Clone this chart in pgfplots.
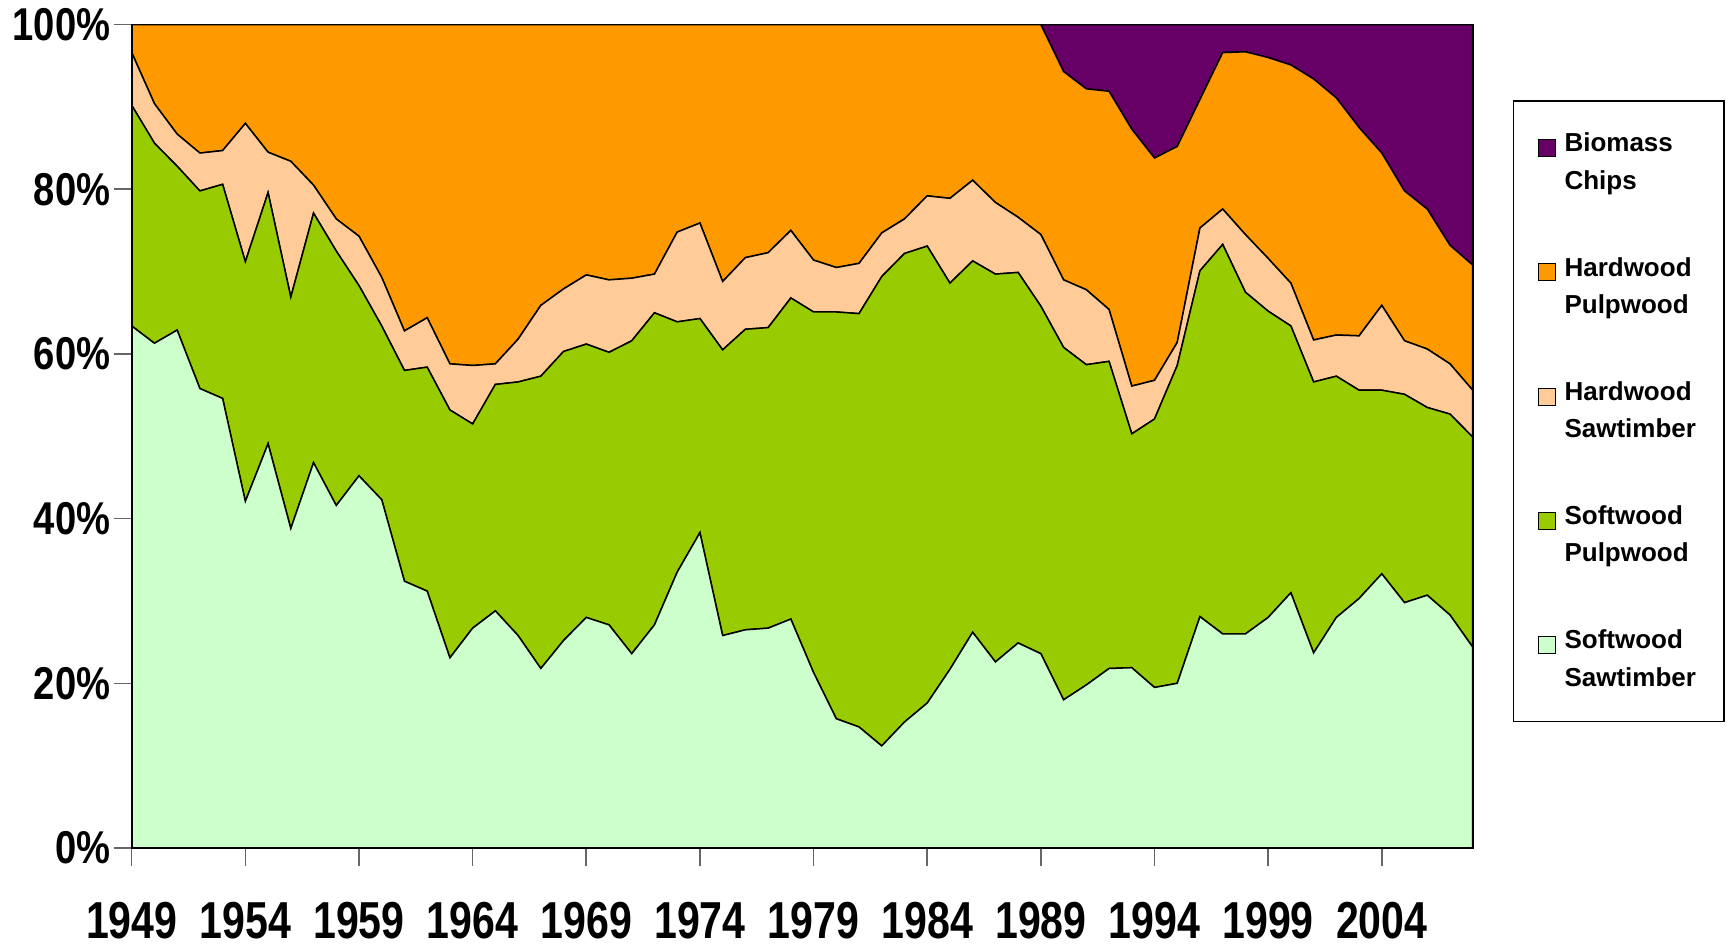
\documentclass[border=0pt]{standalone}
\usepackage{fontspec}
\setmainfont{Liberation Sans}
\newfontfamily\xfont{Liberation Sans}[FakeStretch=0.79]
\newfontfamily\yfont{Liberation Sans}[FakeStretch=0.83]
\usepackage{pgfplots}
\usepackage{pgfplotstable}
\pgfplotsset{compat=1.18}
\definecolor{ssc}{HTML}{CCFFCC}
\definecolor{spc}{HTML}{99CC00}
\definecolor{hsc}{HTML}{FFCC99}
\definecolor{hpc}{HTML}{FF9900}
\definecolor{bcc}{HTML}{660066}
\pgfplotstableread{
year ss sp hs hp bc
1949 63.4 26.8 6.4 3.4 0
1950 61.3 24.3 4.8 9.6 0
1951 62.9 19.9 3.9 13.3 0
1952 55.8 24.0 4.6 15.6 0
1953 54.6 26.0 4.1 15.3 0
1954 42.1 29.1 16.8 12.0 0
1955 49.1 30.5 4.9 15.5 0
1956 38.8 28.1 16.5 16.6 0
1957 46.8 30.3 3.4 19.5 0
1958 41.6 30.9 3.9 23.6 0
1959 45.2 23.1 6.0 25.7 0
1960 42.3 21.1 5.9 30.7 0
1961 32.4 25.6 4.8 37.2 0
1962 31.2 27.2 6.0 35.6 0
1963 23.1 30.1 5.6 41.2 0
1964 26.7 24.8 7.1 41.4 0
1965 28.8 27.5 2.5 41.2 0
1966 25.8 30.8 5.2 38.2 0
1967 21.8 35.5 8.6 34.1 0
1968 25.2 35.1 7.6 32.1 0
1969 28.0 33.2 8.4 30.4 0
1970 27.1 33.1 8.8 31.0 0
1971 23.6 38.0 7.6 30.8 0
1972 27.1 37.9 4.7 30.3 0
1973 33.5 30.4 10.9 25.2 0
1974 38.3 26.0 11.6 24.1 0
1975 25.8 34.7 8.3 31.2 0
1976 26.5 36.5 8.7 28.3 0
1977 26.7 36.5 9.1 27.7 0
1978 27.8 39.0 8.2 25.0 0
1979 21.3 43.8 6.3 28.6 0
1980 15.7 49.4 5.4 29.5 0
1981 14.7 50.2 6.1 29.0 0
1982 12.4 57.0 5.3 25.3 0
1983 15.3 56.9 4.2 23.6 0
1984 17.6 55.5 6.1 20.8 0
1985 21.7 46.9 10.3 21.1 0
1986 26.2 45.1 9.8 18.9 0
1987 22.6 47.1 8.7 21.6 0
1988 24.9 45.0 6.7 23.4 0
1989 23.6 42.2 8.7 25.5 0
1990 18.0 42.8 8.2 25.3 5.7
1991 19.8 38.9 9.1 24.4 7.8
1992 21.8 37.3 6.3 26.5 8.1
1993 21.9 28.4 5.8 31.2 12.7
1994 19.5 32.6 4.7 27.0 16.2
1995 20.0 38.6 2.8 23.8 14.8
1996 28.1 42.0 5.2 15.6 9.1
1997 26.0 47.3 4.3 19.0 3.4
1998 26.0 41.5 7.0 22.2 3.3
1999 28.0 37.2 6.4 24.4 4.0
2000 31.0 32.4 5.2 26.5 4.9
2001 23.7 32.9 5.1 31.7 6.6
2002 28.0 29.3 5.0 28.8 8.9
2003 30.3 25.3 6.6 25.3 12.5
2004 33.3 22.3 10.3 18.5 15.6
2005 29.8 25.3 6.5 18.2 20.2
2006 30.7 22.8 7.1 17.0 22.4
2007 28.3 24.4 6.1 14.4 26.8
2008 24.4 25.5 5.7 15.2 29.2
}\datatable
\begin{document}
\begin{tikzpicture}
\useasboundingbox (-65.85pt,-50pt) rectangle (797.65pt,424pt);
\begin{axis}[
  at={(0,0)}, anchor=south west,
  scale only axis,
  width=670.5pt, height=411.7pt,
  xmin=1949, xmax=2008, ymin=0, ymax=100,
  stack plots=y,
  area style,
  tick pos=left,
  tick align=outside,
  major tick length=9pt,
  xtick={1949,1954,1959,1964,1969,1974,1979,1984,1989,1994,1999,2004},
  xticklabels={1949,1954,1959,1964,1969,1974,1979,1984,1989,1994,1999,2004},
  ytick={0,20,40,60,80,100},
  yticklabels={0\%,20\%,40\%,60\%,80\%,100\%},
  tick style={black!60, line width=0.8pt},
  xticklabel style={font=\xfont\bfseries\fontsize{26}{28}\selectfont, yshift=-14.5pt},
  yticklabel style={font=\yfont\bfseries\fontsize{23}{25}\selectfont, xshift=1.8pt},
  axis line style={black, line width=0.9pt},
  reverse legend,
  legend cell align=left,
  legend style={at={(1.030,0.908)}, anchor=north west, draw=black, line width=0.6pt,
    font=\bfseries\fontsize{13}{18.7}\selectfont,
    nodes={align=left, inner sep=2pt},
    row sep=28.5pt, inner xsep=12pt, inner ysep=14pt},
  legend image code/.code={\draw[#1,draw=black,line width=0.5pt] (0pt,3pt) rectangle (8.5pt,11.5pt);},
  legend style={column sep=2.5pt},
]
\addplot[fill=ssc, draw=black, line width=0.75pt] table[x=year,y=ss]{\datatable} \closedcycle;
\addlegendentry{Softwood\\Sawtimber}
\addplot[fill=spc, draw=black, line width=0.75pt] table[x=year,y=sp]{\datatable} \closedcycle;
\addlegendentry{Softwood\\Pulpwood}
\addplot[fill=hsc, draw=black, line width=0.75pt] table[x=year,y=hs]{\datatable} \closedcycle;
\addlegendentry{Hardwood\\Sawtimber}
\addplot[fill=hpc, draw=black, line width=0.75pt] table[x=year,y=hp]{\datatable} \closedcycle;
\addlegendentry{Hardwood\\Pulpwood}
\addplot[fill=bcc, draw=black, line width=0.75pt] table[x=year,y=bc]{\datatable} \closedcycle;
\addlegendentry{Biomass\\Chips}
\end{axis}
\end{tikzpicture}
\end{document}
